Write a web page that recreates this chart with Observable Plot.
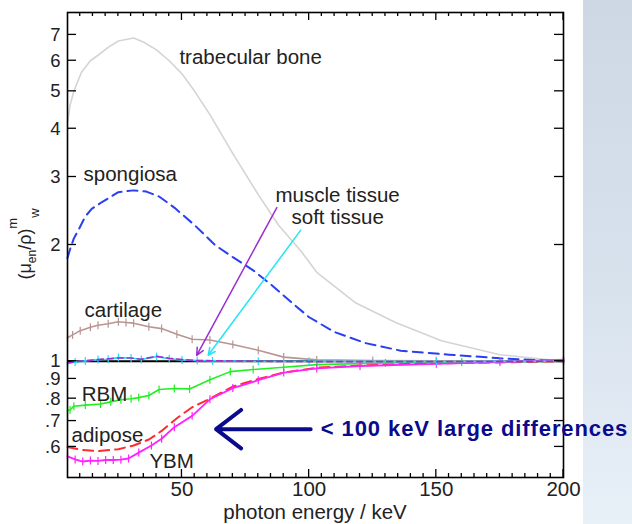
<!DOCTYPE html>
<html><head><meta charset="utf-8">
<script src="https://cdn.jsdelivr.net/npm/d3@7"></script>
<script src="https://cdn.jsdelivr.net/npm/@observablehq/plot@0.6"></script>
<style>
body{margin:0;background:#fff;}
#wrap{position:relative;width:632px;height:524px;overflow:hidden;font-family:"Liberation Sans",Arial,Helvetica,sans-serif;}
#panel{position:absolute;left:583px;top:0;width:49px;height:524px;background:linear-gradient(to bottom,#cdd8e4,#d8e2ed 55%,#e8f0f8);}
#chart{position:absolute;left:0;top:0;}
</style></head><body>
<div id="wrap"><div id="panel"></div><div id="chart"></div></div>
<script>
// [photon energy keV, ratio]
const trabecular = [[5,4.15],[6,4.6],[7.5,5.0],[10.5,5.6],[14,6.0],[17,6.2],[21,6.5],[25,6.75],[31,6.87],[35,6.7],[40,6.4],[45,6.0],[50,5.55],[55,5.0],[61,4.35],[70,3.45],[80,2.7],[88,2.25],[97,1.92],[103,1.7],[118,1.42],[134,1.26],[152,1.13],[175,1.04],[200,1.0]];
const spongiosa = [[5,1.85],[6,1.95],[7.5,2.08],[9.5,2.2],[12,2.37],[14.5,2.48],[18.4,2.58],[25,2.74],[31,2.77],[36,2.75],[41,2.67],[47,2.5],[55,2.25],[63,2.0],[70,1.86],[78,1.72],[85,1.58],[92,1.44],[100,1.3],[110,1.19],[122,1.115],[136,1.065],[155,1.04],[175,1.018],[200,1.0]];
const cartilage = [[5,1.15],[7,1.17],[10,1.2],[14,1.225],[17,1.24],[21,1.25],[25,1.265],[28,1.26],[31,1.255],[37,1.228],[42,1.215],[48,1.175],[54,1.14],[61,1.135],[70,1.105],[80,1.068],[90,1.025],[103,1.008],[125,1.004],[150,1.003],[200,1.0]];
const muscle = [[5,0.99],[8,0.997],[12,1.003],[17,1.01],[21,1.015],[25,1.02],[30,1.02],[34,1.012],[40,1.03],[45,1.018],[50,1.01],[55,1.005],[62,1.003],[80,1.0],[100,0.998],[150,0.998],[200,1.0]];
const softTissue = [[5,0.985],[8,0.995],[12,1.002],[17,1.01],[21,1.012],[25,1.022],[30,1.02],[34,1.01],[40,1.028],[45,1.015],[50,1.008],[56,1.004],[62,1.002],[80,1.0],[100,1.0],[150,0.998],[200,1.0]];
const rbm = [[5,0.745],[6,0.748],[7.5,0.765],[12,0.77],[18,0.775],[22,0.785],[26,0.795],[30,0.8],[33,0.805],[37,0.815],[41,0.845],[47,0.85],[53,0.848],[61,0.895],[69,0.94],[78,0.952],[90,0.965],[103,0.98],[130,0.99],[160,0.995],[200,1.0]];
const adipose = [[5,0.6],[10,0.59],[17,0.585],[25,0.592],[31,0.605],[37,0.627],[42,0.66],[48,0.712],[54,0.76],[61,0.8],[70,0.86],[80,0.9],[90,0.935],[103,0.962],[120,0.975],[150,0.988],[175,0.993],[200,1.0]];
const ybm = [[5,0.567],[8,0.557],[11,0.55],[14,0.553],[17,0.552],[20,0.555],[23,0.555],[26,0.556],[29,0.56],[33,0.58],[38,0.605],[42,0.63],[47,0.675],[54,0.722],[61,0.797],[70,0.852],[80,0.893],[90,0.935],[103,0.958],[120,0.972],[150,0.985],[175,0.995],[200,1.01]];

const xMajorTicks = [50, 100, 150, 200];
const xMinorTicks = [10,15,20,25,30,35,40,45,55,60,65,70,75,80,85,90,95,105,110,115,120,125,130,135,140,145,155,160,165,170,175,180,185,190,195];
const yTicks = [7, 6, 5, 4, 3, 2, 1, 0.9, 0.8, 0.7, 0.6];
const yTickLabels = ["7", "6", "5", "4", "3", "2", "1", ".9", ".8", ".7", ".6"];

const labels = [
  {text: "trabecular bone", e: 49, v: 6.13, anchor: "start"},
  {text: "spongiosa", e: 11.3, v: 3.05, anchor: "start"},
  {text: "muscle tissue", e: 111.2, v: 2.68, anchor: "middle"},
  {text: "soft tissue", e: 111.2, v: 2.36, anchor: "middle"},
  {text: "cartilage", e: 11.7, v: 1.35, anchor: "start"},
  {text: "RBM", e: 10.6, v: 0.821, anchor: "start"},
  {text: "adipose", e: 6.6, v: 0.643, anchor: "start"},
  {text: "YBM", e: 37.2, v: 0.551, anchor: "start"}
];
const pointerArrows = [
  {e1: 87.3, v1: 2.5, e2: 55.8, v2: 1.036, color: "#9b30d0"},
  {e1: 96.7, v1: 2.185, e2: 60.3, v2: 1.036, color: "#22e5f5"}
];
const bigArrow = [{e1: 100.6, v1: 0.667, e2: 63.4, v2: 0.667}];
const note = [{text: "< 100 keV large differences", e: 104.6, v: 0.667}];

const series = [
  {pts: trabecular, color: "#d4d4d4", dash: null, w: 1.6, markers: false},
  {pts: spongiosa, color: "#2a3ff0", dash: "10,6", w: 2, markers: false},
  {pts: cartilage, color: "#b89592", dash: null, w: 1.6, markers: true},
  {pts: rbm, color: "#22ee22", dash: null, w: 1.6, markers: true},
  {pts: adipose, color: "#ff2a2a", dash: "10,6", w: 2, markers: false},
  {pts: ybm, color: "#ff22ff", dash: null, w: 1.8, markers: true},
  {pts: softTissue, color: "#22ddff", dash: null, w: 1.6, markers: true},
  {pts: muscle, color: "#9b30d0", dash: "6,4", w: 1.6, markers: false}
];

const vtick = {draw(ctx, size) { const h = Math.sqrt(size) * 0.9; ctx.moveTo(0, -h); ctx.lineTo(0, h); }};

const fs = 20.5;
const marks = [
  Plot.ruleY([1], {stroke: "black", strokeWidth: 2}),
];
for (const s of series) {
  marks.push(Plot.line(s.pts, {x: d => d[0], y: d => d[1], stroke: s.color, strokeWidth: s.w, strokeDasharray: s.dash, curve: "linear"}));
  if (s.markers) marks.push(Plot.dot(s.pts, {x: d => d[0], y: d => d[1], symbol: vtick, r: 2.5, stroke: s.color, strokeWidth: 1.2, fill: "none"}));
}
marks.push(
  Plot.frame({stroke: "black", strokeWidth: 1.6}),
  Plot.axisX(xMajorTicks, {anchor: "bottom", tickSize: 0, tickPadding: 4, label: null, fill: "#222", fontSize: fs, tickFormat: d => String(d)}),
  Plot.axisY(yTicks, {anchor: "left", tickSize: 0, tickPadding: 7, label: null, fill: "#222", fontSize: 18.5, tickFormat: d => yTickLabels[yTicks.indexOf(d)]}),
  Plot.text(labels, {filter: d => d.anchor === "start", x: "e", y: "v", text: "text", textAnchor: "start", fill: "#222", fontSize: fs}),
  Plot.text(labels, {filter: d => d.anchor === "middle", x: "e", y: "v", text: "text", textAnchor: "middle", fill: "#222", fontSize: fs}),
  Plot.arrow(pointerArrows, {x1: "e1", y1: "v1", x2: "e2", y2: "v2", stroke: d => d.color, strokeWidth: 1.5, headLength: 8, headAngle: 50}),
  Plot.arrow(bigArrow, {x1: "e1", y1: "v1", x2: "e2", y2: "v2", stroke: "#0a0a8c", strokeWidth: 4, headLength: 16, headAngle: 75}),
  Plot.text(note, {x: "e", y: "v", text: "text", textAnchor: "start", fill: "#0a0a8c", fontWeight: "bold", fontSize: 22})
);

const plot = Plot.plot({
  width: 632, height: 524,
  marginLeft: 67, marginRight: 69, marginTop: 12, marginBottom: 47,
  style: {background: "transparent", fontFamily: "'Liberation Sans', Arial, Helvetica, sans-serif", fontSize: fs + "px", overflow: "visible"},
  x: {type: "linear", domain: [5, 200], axis: null},
  y: {type: "log", domain: [0.5, 8], axis: null},
  marks
});
document.getElementById("chart").appendChild(plot);

const svg = d3.select(plot);
svg.selectAll("text").filter(function() { return this.textContent === note[0].text; }).attr("letter-spacing", "0.9px");

// inward ticks from the library's own scales
const sx = plot.scale("x"), sy = plot.scale("y");
const [xl, xr] = sx.range, [yb, yt] = sy.range;
const tg = svg.append("g").attr("stroke", "black").attr("stroke-width", 1.3);
const xTick = (t, len) => {
  const x = sx.apply(t);
  tg.append("line").attr("x1", x).attr("x2", x).attr("y1", yb).attr("y2", yb - len);
  tg.append("line").attr("x1", x).attr("x2", x).attr("y1", yt).attr("y2", yt + len);
};
xMinorTicks.forEach(t => xTick(t, 4));
xMajorTicks.forEach(t => xTick(t, 8));
yTicks.forEach(t => {
  const y = sy.apply(t);
  tg.append("line").attr("x1", xl).attr("x2", xl + 9).attr("y1", y).attr("y2", y);
  tg.append("line").attr("x1", xr).attr("x2", xr - 9).attr("y1", y).attr("y2", y);
});

svg.append("text")
  .attr("x", 315).attr("y", 514).attr("text-anchor", "middle").attr("dominant-baseline", "middle")
  .attr("fill", "#222").attr("font-size", fs).text("photon energy / keV");
const yl = svg.append("text")
  .attr("transform", "translate(31,244) rotate(-90)")
  .attr("text-anchor", "middle").attr("fill", "#222").attr("font-size", 18);
yl.append("tspan").text("(μ");
yl.append("tspan").attr("font-size", 12).attr("dy", 5).text("en");
yl.append("tspan").attr("dy", -5).text("/ρ)");
yl.append("tspan").attr("font-size", 13).attr("dy", -14).text("m");
yl.append("tspan").attr("font-size", 13).attr("dy", 22).text("w");
</script>
</body></html>
